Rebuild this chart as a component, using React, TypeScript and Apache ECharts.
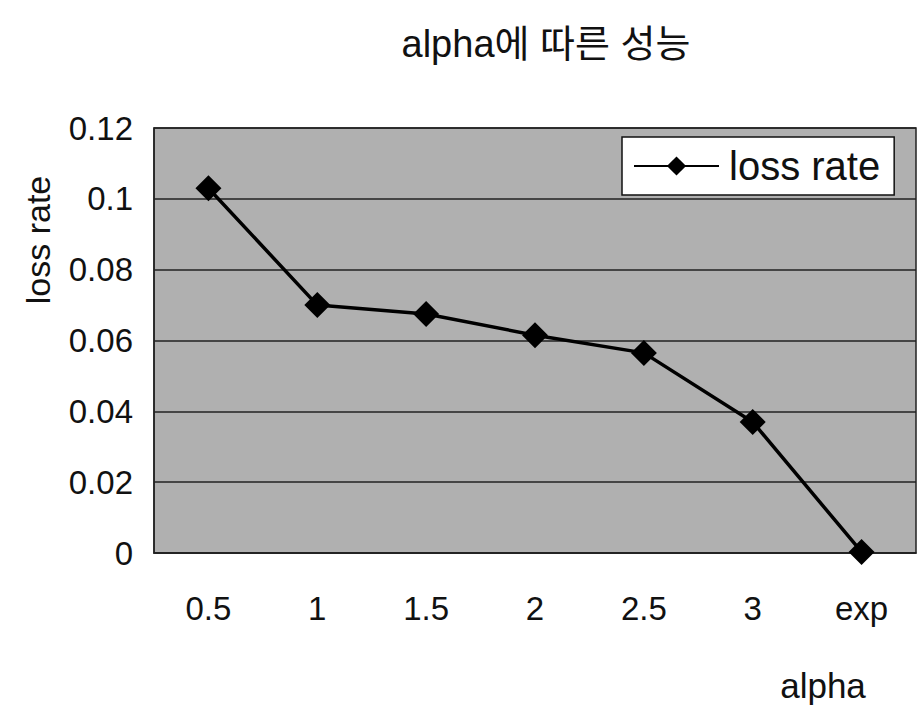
import React, { useEffect, useRef } from "react";
import * as echarts from "echarts";

const titleText = "alpha에 따른 성능";
const categories = ["0.5", "1", "1.5", "2", "2.5", "3", "exp"];
const lossRate = [0.103, 0.07, 0.0675, 0.0615, 0.0565, 0.037, 0.0003];
const seriesName = "loss rate";
const xName = "alpha";
const yName = "loss rate";

const FONT = "'Liberation Sans', Arial, 'Noto Sans CJK KR', sans-serif";

export default function App() {
  const ref = useRef<HTMLDivElement>(null);
  useEffect(() => {
    if (!ref.current) return;
    const chart = echarts.init(ref.current, null, { renderer: "svg" });
    chart.setOption({
      animation: false,
      backgroundColor: "#ffffff",
      title: {
        text: titleText,
        left: 541,
        top: 20,
        textAlign: "center",
        textStyle: { fontFamily: FONT, fontSize: 38, fontWeight: "normal", color: "#111" },
      },
      grid: {
        left: 154,
        top: 128,
        right: 1,
        bottom: 153,
        show: true,
        backgroundColor: "#b0b0b0",
        borderColor: "#222",
        borderWidth: 1.5,
      },
      legend: {
        left: 622,
        top: 137,
        padding: [9, 14, 9, 11],
        backgroundColor: "#ffffff",
        borderColor: "#111",
        borderWidth: 1.5,
        itemWidth: 85,
        itemHeight: 24,
        itemGap: 10,
        textStyle: { fontFamily: FONT, fontSize: 40, color: "#111", padding: [0, 0, 0, 5] },
        data: [seriesName],
      },
      xAxis: {
        type: "category",
        data: categories,
        boundaryGap: true,
        axisLine: { show: true, lineStyle: { color: "#222", width: 1.5 } },
        axisTick: { show: false },
        axisLabel: { fontFamily: FONT, fontSize: 33, color: "#111", margin: 39 },
        splitLine: { show: false },
      },
      yAxis: {
        type: "value",
        min: 0,
        max: 0.12,
        interval: 0.02,
        axisLine: { show: true, lineStyle: { color: "#222", width: 1.5 } },
        axisTick: { show: false },
        axisLabel: { fontFamily: FONT, fontSize: 33, color: "#111", margin: 21 },
        splitLine: { show: true, lineStyle: { color: "#222", width: 1.5 } },
      },
      graphic: [
        {
          type: "text",
          x: 38,
          y: 240,
          rotation: Math.PI / 2,
          style: {
            text: yName,
            fontFamily: FONT,
            fontSize: 34,
            fill: "#111",
            align: "center",
            verticalAlign: "middle",
          },
        },
        {
          type: "text",
          x: 823,
          y: 685,
          style: {
            text: xName,
            fontFamily: FONT,
            fontSize: 35,
            fill: "#111",
            align: "center",
            verticalAlign: "middle",
          },
        },
      ],
      series: [
        {
          name: seriesName,
          type: "line",
          data: lossRate,
          symbol: "diamond",
          symbolSize: 26,
          itemStyle: { color: "#000" },
          lineStyle: { color: "#000", width: 3.5 },
        },
      ],
    });
    return () => chart.dispose();
  }, []);
  return <div ref={ref} style={{ width: 917, height: 706, position: "absolute", left: 0, top: 0 }} />;
}
